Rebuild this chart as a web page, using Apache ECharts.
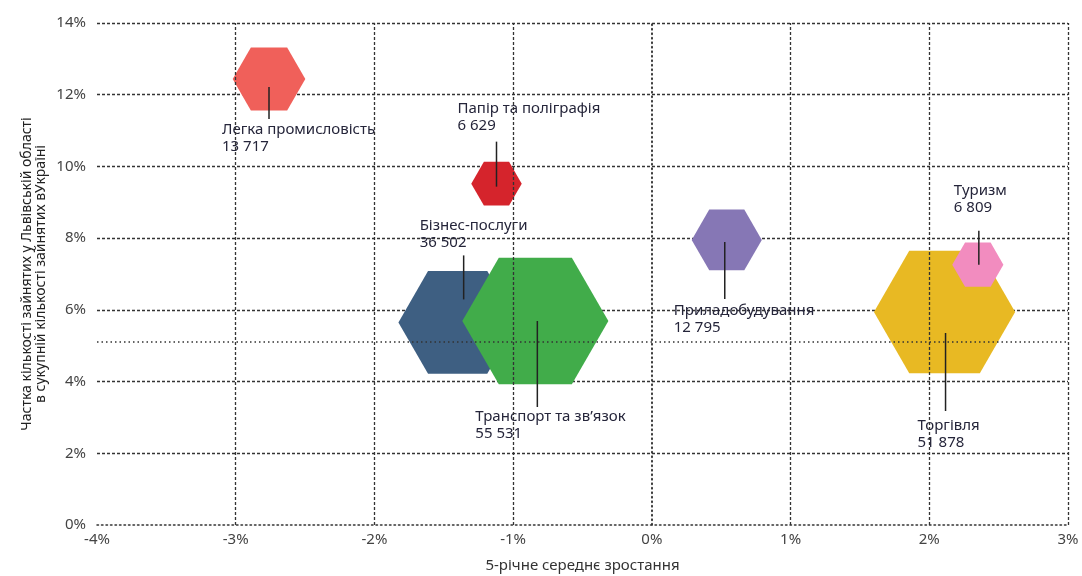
<!DOCTYPE html>
<html>
<head>
<meta charset="utf-8">
<script src="https://cdn.jsdelivr.net/npm/echarts@6/dist/echarts.min.js"></script>
<style>html,body{margin:0;padding:0;background:#fff}#c{width:1082px;height:576px}</style>
</head>
<body>
<div id="c"></div>
<script>
// ---- data ----
var sectors = ['Легка промисловість', 'Папір та поліграфія', 'Бізнес-послуги', 'Транспорт та зв\u2019язок', 'Приладобудування', 'Торгівля', 'Туризм'];
var growth = [-2.76, -1.12, -1.40, -0.84, 0.54, 2.11, 2.35];      // 5-річне середнє зростання, %
var share = [12.44, 9.52, 5.65, 5.69, 7.95, 5.94, 7.26];          // частка, %
var employed = [13717, 6629, 36502, 55531, 12795, 51878, 6809];   // кількість зайнятих
var xTicks = [-4, -3, -2, -1, 0, 1, 2, 3];
var yTicks = [0, 2, 4, 6, 8, 10, 12, 14];
var refShare = 5.1;

// ---- styles ----
var colors = ['#F0605A', '#D5242C', '#3E5F82', '#41AC4A', '#8677B5', '#E8B923', '#F28CBF'];
// label layout: line dx, line from/to dy, text dx/dy (pixels, relative to bubble centre)
var labelLayout = [
  {ldx: 0, l0: 8, l1: 40, tdx: -47, tdy: 42},
  {ldx: 0, l0: -42, l1: 3, tdx: -39, tdy: -83},
  {ldx: 6, l0: -67, l1: -23, tdx: -38, tdy: -105},
  {ldx: 2, l0: 0, l1: 86, tdx: -60, tdy: 87},
  {ldx: -2, l0: 2, l1: 59, tdx: -53, tdy: 62},
  {ldx: 1, l0: 21, l1: 99, tdx: -27, tdy: 105},
  {ldx: 1, l0: -34, l1: 0, tdx: -24, tdy: -82}
];
var K = 0.62;
var FONT = 'Noto Sans';

function fmt(n) { return String(n).replace(/\B(?=(\d{3})+(?!\d))/g, ' '); }

var bubbleData = sectors.map(function (s, i) { return [growth[i], share[i], employed[i], i]; });

var dashed = {color: '#333', width: 1.3, type: [3, 2]};
var dotted = {color: '#333', width: 1.5, type: [1.5, 3]};

var gridMarks = xTicks.filter(function (v) { return v !== xTicks[0]; }).map(function (v) {
  return {xAxis: v, lineStyle: v === 0 ? dotted : dashed};
});
gridMarks.push({yAxis: refShare, lineStyle: dotted});

var chart = echarts.init(document.getElementById('c'));
chart.setOption({
  animation: false,
  grid: {left: 97, right: 14, top: 23, bottom: 51, containLabel: false, outerBoundsMode: 'none'},
  xAxis: {
    type: 'value', min: xTicks[0], max: xTicks[xTicks.length - 1], interval: 1,
    axisLine: {show: true, lineStyle: dotted},
    axisTick: {show: false},
    splitLine: {show: false},
    axisLabel: {formatter: '{value}%', color: '#444', fontSize: 15, fontFamily: FONT, margin: 7},
    name: '5-річне середнє зростання', nameLocation: 'middle', nameGap: 33,
    nameTextStyle: {color: '#333', fontSize: 15, fontFamily: FONT}
  },
  yAxis: {
    type: 'value', min: yTicks[0], max: yTicks[yTicks.length - 1], interval: 2,
    axisLine: {show: true, lineStyle: dotted},
    axisTick: {show: false},
    splitLine: {show: true, showMinLine: false, lineStyle: dashed},
    axisLabel: {formatter: '{value}%', color: '#444', fontSize: 15, fontFamily: FONT, margin: 11},
    name: 'Частка кількості зайнятих у Львівській області\nв сукупній кількості зайнятих вУкраїні',
    nameLocation: 'middle', nameGap: 49, nameRotate: 90, nameMoveOverlap: false,
    nameTextStyle: {color: '#222', fontSize: 14, fontFamily: FONT, lineHeight: 14}
  },
  series: [
    {
      type: 'line', data: [], z: 1, silent: true,
      markLine: {silent: true, symbol: 'none', label: {show: false}, data: gridMarks, animation: false}
    },
    {
      type: 'custom', z: 2, silent: true,
      data: bubbleData,
      renderItem: function (params, api) {
        var c = api.coord([api.value(0), api.value(1)]);
        var w = K * Math.sqrt(api.value(2));
        var h = w * Math.sqrt(3) / 2;
        var pts = [[c[0] - w / 2, c[1]], [c[0] - w / 4, c[1] - h / 2], [c[0] + w / 4, c[1] - h / 2],
                   [c[0] + w / 2, c[1]], [c[0] + w / 4, c[1] + h / 2], [c[0] - w / 4, c[1] + h / 2]];
        return {type: 'polygon', shape: {points: pts}, style: {fill: colors[api.value(3)]}};
      }
    },
    {
      type: 'custom', z: 3, silent: true,
      data: bubbleData,
      renderItem: function (params, api) {
        var i = api.value(3);
        var c = api.coord([api.value(0), api.value(1)]);
        var L = labelLayout[i];
        return {
          type: 'group',
          children: [
            {type: 'line', shape: {x1: c[0] + L.ldx, y1: c[1] + L.l0, x2: c[0] + L.ldx, y2: c[1] + L.l1},
             style: {stroke: '#222', lineWidth: 1.5}},
            {type: 'text', style: {text: sectors[i] + '\n' + fmt(employed[i]), x: c[0] + L.tdx, y: c[1] + L.tdy,
             fill: '#25253a', fontSize: 15, fontFamily: FONT, lineHeight: 17, textAlign: 'left', textVerticalAlign: 'top'}}
          ]
        };
      }
    }
  ]
});
</script>
</body>
</html>
